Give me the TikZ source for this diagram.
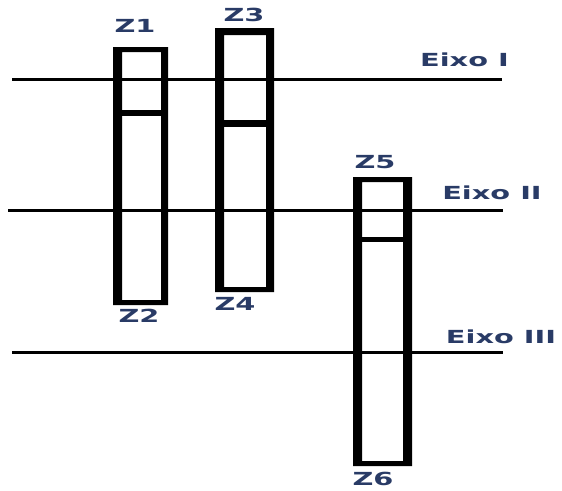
\documentclass[tikz,border=0pt]{standalone}
\usepackage{fontspec}
\setmainfont{DejaVu Sans}
\definecolor{labelblue}{rgb}{0.16,0.23,0.40}
\begin{document}
\begin{tikzpicture}[x=1pt,y=-1pt,
  axisline/.style={line width=3pt},
  frame/.style={fill=black,even odd rule},
  lbl/.style={text=labelblue,font=\bfseries\fontsize{18}{18}\selectfont,
    inner sep=0pt,xscale=1.6}]
\useasboundingbox (0,0) rectangle (562,490);

% horizontal axes
\draw[axisline] (12,79) -- (502,79);
\draw[axisline] (8,210) -- (503,210);
\draw[axisline] (12,352) -- (503,352);

% column Z1-Z2
\fill[frame] (113,47) rectangle (168,305) (122,52) rectangle (161,300);
\fill (122,110) rectangle (161,116);
% column Z3-Z4
\fill[frame] (215,28) rectangle (274,292) (224,35) rectangle (266,287);
\fill (224,120) rectangle (266,127);
% column Z5-Z6
\fill[frame] (353,177) rectangle (412,466) (362,182) rectangle (403,461);
\fill (362,237) rectangle (403,242);

% labels
\node[lbl] (z1) at (135,26) {Z1};
\node[lbl] (z2) at (139,316) {Z2};
\node[lbl] (z3) at (244,14.5) {Z3};
\node[lbl] (z4) at (235,304) {Z4};
\node[lbl] (z5) at (375,162) {Z5};
\node[lbl] (z6) at (373,479) {Z6};
\node[lbl] (e1) at (464.5,59.5) {Eixo I};
\node[lbl] (e2) at (492,193) {Eixo II};
\node[lbl] (e3) at (501,336.5) {Eixo III};
\end{tikzpicture}
\end{document}
